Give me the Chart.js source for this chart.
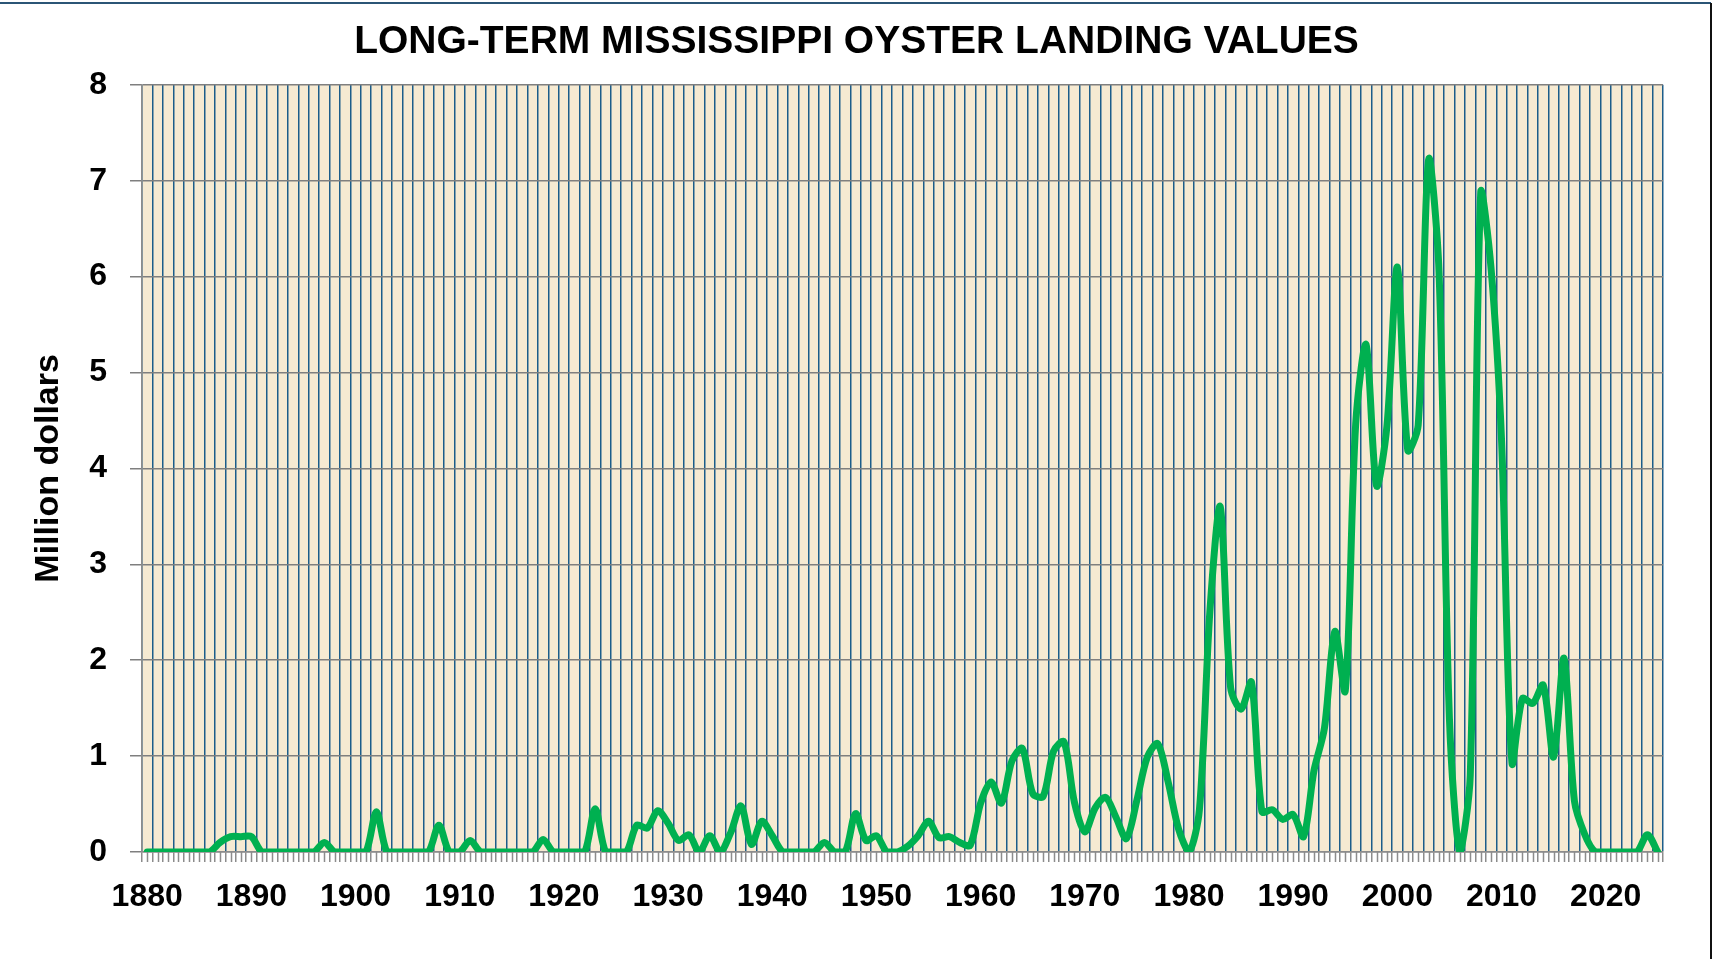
<!DOCTYPE html>
<html>
<head>
<meta charset="utf-8">
<title>Long-term Mississippi oyster landing values</title>
<script src="https://cdn.jsdelivr.net/npm/chart.js@4.4.1/dist/chart.umd.min.js"></script>
<style>
  html, body { margin: 0; padding: 0; background: #ffffff; }
  #wrap { width: 1713px; height: 959px; }
</style>
</head>
<body>
<div id="wrap"><canvas id="myChart" width="1713" height="959"></canvas></div>
<script>
// years on the category axis
const firstYear = 1880;
const lastYear = 2025;
const years = [];
for (let y = firstYear; y <= lastYear; y++) years.push(String(y));

// landing values, million dollars (one per year)
const values1880s = [0, 0, 0, 0, 0, 0, 0, 0.1, 0.16, 0.16];
const values1890s = [0.16, 0, 0, 0, 0, 0, 0, 0.1, 0, 0];
const values1900s = [0, 0, 0.42, 0, 0, 0, 0, 0, 0.28, 0];
const values1910s = [0, 0.12, 0, 0, 0, 0, 0, 0, 0.13, 0];
const values1920s = [0, 0, 0, 0.45, 0, 0, 0, 0.28, 0.25, 0.43];
const values1930s = [0.3, 0.12, 0.18, 0, 0.17, 0, 0.2, 0.48, 0.08, 0.32];
const values1940s = [0.17, 0, 0, 0, 0, 0.1, 0, 0, 0.4, 0.12];
const values1950s = [0.17, 0, 0, 0.06, 0.17, 0.32, 0.15, 0.16, 0.1, 0.07];
const values1960s = [0.51, 0.73, 0.51, 0.95, 1.08, 0.61, 0.58, 1.05, 1.15, 0.52];
const values1970s = [0.21, 0.46, 0.57, 0.36, 0.14, 0.54, 0.99, 1.13, 0.73, 0.24];
const values1980s = [0, 0.44, 2.5, 3.6, 1.71, 1.49, 1.77, 0.42, 0.44, 0.34];
const values1990s = [0.39, 0.16, 0.85, 1.29, 2.3, 1.68, 4.46, 5.29, 3.82, 4.44];
const values2000s = [6.1, 4.19, 4.45, 7.22, 6.05, 1.39, 0, 0.8, 6.87, 6.08];
const values2010s = [4.3, 0.93, 1.6, 1.55, 1.74, 0.99, 2.02, 0.53, 0.18, 0];
const values2020s = [0, 0, 0, 0, 0.18, 0];

const landingValues = [].concat(
  values1880s, values1890s, values1900s, values1910s, values1920s,
  values1930s, values1940s, values1950s, values1960s, values1970s,
  values1980s, values1990s, values2000s, values2010s, values2020s
);

const yTicks = [0, 1, 2, 3, 4, 5, 6, 7, 8];

const FONT = "'Liberation Sans', Arial, sans-serif";

// beige plot area, extra half-year tick marks, frame lines
const paperPlugin = {
  id: "paper",
  beforeDraw(chart) {
    const { ctx, chartArea: a } = chart;
    ctx.save();
    ctx.fillStyle = "#F6EAD2";
    ctx.fillRect(a.left, a.top, a.right - a.left, a.bottom - a.top);
    ctx.restore();
  },
  afterDraw(chart) {
    const { ctx, chartArea: a } = chart;
    const xs = chart.scales.x;
    ctx.save();
    ctx.strokeStyle = "#8c8c8c";
    ctx.lineWidth = 1.5;
    ctx.beginPath();
    for (let i = 0; i < years.length; i++) {
      const px = Math.round(xs.getPixelForValue(i)) + 0.5;
      ctx.moveTo(px, a.bottom);
      ctx.lineTo(px, a.bottom + 10);
    }
    ctx.stroke();
    // frame
    ctx.lineWidth = 2;
    ctx.strokeStyle = "#2b5576";
    ctx.beginPath();
    ctx.moveTo(0, 3);
    ctx.lineTo(1711, 3);
    ctx.stroke();
    ctx.strokeStyle = "#111111";
    ctx.beginPath();
    ctx.moveTo(1711, 3);
    ctx.lineTo(1711, 959);
    ctx.stroke();
    ctx.restore();
  },
};

initChart();

function initChart() {
  const ctx = document.getElementById("myChart").getContext("2d");
  window.chart = new Chart(ctx, {
    type: "line",
    data: {
      labels: years,
      datasets: [
        {
          label: "Oyster landing value",
          data: landingValues,
          borderColor: "#00B050",
          borderWidth: 7,
          pointRadius: 0,
          tension: 0.3,
          borderCapStyle: "round",
          borderJoinStyle: "round",
          fill: false,
        },
      ],
    },
    options: {
      responsive: false,
      animation: false,
      events: [],
      layout: { padding: 0 },
      plugins: {
        legend: { display: false },
        tooltip: { enabled: false },
        title: {
          display: true,
          text: "LONG-TERM MISSISSIPPI OYSTER LANDING VALUES",
          color: "#000000",
          font: { family: FONT, size: 39, weight: "bold" },
          padding: { top: 19, bottom: 19 },
        },
      },
      scales: {
        x: {
          type: "category",
          offset: true,
          grid: {
            offset: true,
            color: "#1c5d8a",
            lineWidth: 1.5,
            tickColor: "#8c8c8c",
            tickLength: 10,
          },
          border: { color: "#8c8c8c", width: 1.5 },
          ticks: {
            autoSkip: false,
            maxRotation: 0,
            minRotation: 0,
            padding: 16,
            color: "#000000",
            font: { family: FONT, size: 32, weight: "bold" },
            callback: function (value, index) {
              const yr = Number(years[index]);
              return yr % 10 === 0 ? String(yr) : "";
            },
          },
          afterFit: function (scale) {
            scale.height = 107;
          },
        },
        y: {
          min: yTicks[0],
          max: yTicks[yTicks.length - 1],
          grid: {
            color: "#7f7f7f",
            lineWidth: 1.5,
            tickLength: 12,
          },
          border: { color: "#8c8c8c", width: 1.5 },
          afterBuildTicks: function (scale) {
            scale.ticks = yTicks.map((v) => ({ value: v }));
          },
          ticks: {
            padding: 23,
            color: "#000000",
            font: { family: FONT, size: 32, weight: "bold" },
          },
          title: {
            display: true,
            text: "Million dollars",
            color: "#000000",
            font: { family: FONT, size: 34, weight: "bold" },
            padding: { top: 28, bottom: 0 },
          },
          afterFit: function (scale) {
            scale.width = 142;
          },
        },
        // empty right-hand margin so the title centres on the whole picture
        yRight: {
          position: "right",
          display: true,
          min: yTicks[0],
          max: yTicks[yTicks.length - 1],
          grid: { display: false, drawOnChartArea: false, drawTicks: false },
          border: { display: false },
          ticks: { display: false },
          afterFit: function (scale) {
            scale.width = 50;
          },
        },
      },
    },
    plugins: [paperPlugin],
  });
}
</script>
</body>
</html>
